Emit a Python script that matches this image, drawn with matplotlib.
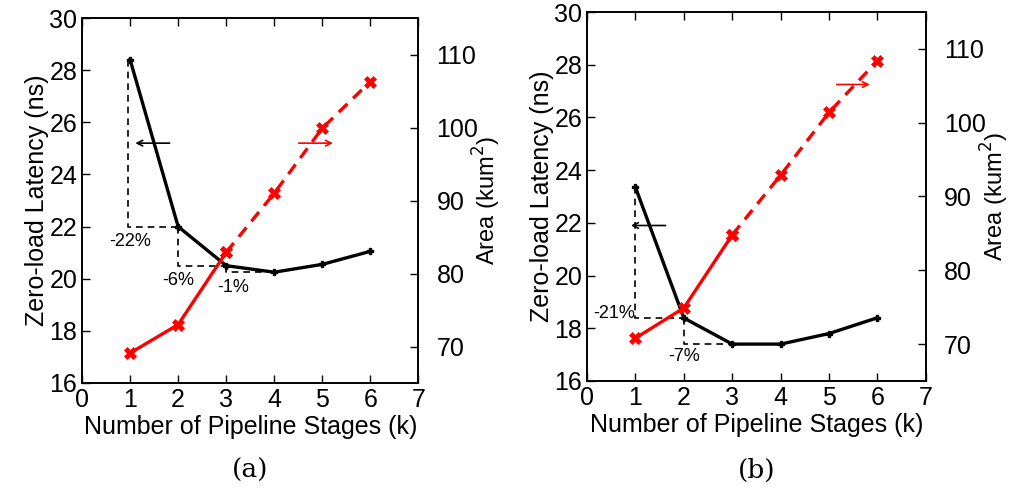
import matplotlib
matplotlib.use("Agg")
import matplotlib.pyplot as plt

plt.rcParams['font.family'] = ['Liberation Sans', 'DejaVu Sans']

stages = [1, 2, 3, 4, 5, 6]
latency_a = [28.4, 22.0, 20.5, 20.25, 20.55, 21.05]
area_a = [69.1, 73.0, 82.9, 91.0, 99.9, 106.3]
latency_b = [23.35, 18.39, 17.4, 17.4, 17.8, 18.4]
area_b = [70.8, 74.9, 84.8, 92.9, 101.4, 108.4]

xticks = [0, 1, 2, 3, 4, 5, 6, 7]
lat_ticks = [16, 18, 20, 22, 24, 26, 28, 30]
area_ticks = [70, 80, 90, 100, 110]

FS = 18
fig = plt.figure(figsize=(10.13, 5.0), dpi=100)


def panel(rect, lat, area, caption, cap_x):
    ax = fig.add_axes(rect)
    ax.set_xlim(0, 7)
    ax.set_ylim(16, 30)
    ax.set_xticks(xticks)
    ax.set_yticks(lat_ticks)
    ax.tick_params(direction='in', length=6, width=1, labelsize=FS, top=True)
    ax.set_xlabel('Number of Pipeline Stages (k)', fontsize=FS, labelpad=2)
    ax.set_ylabel('Zero-load Latency (ns)', fontsize=FS, labelpad=0)
    ax.plot(stages, lat, color='black', lw=2.4, marker='P', ms=5, zorder=3)
    ax2 = ax.twinx()
    ax2.set_ylim(65, 115)
    ax2.set_yticks(area_ticks)
    ax2.tick_params(direction='in', length=6, width=1, labelsize=FS, pad=13)
    ax2.set_ylabel('Area (kum$^2$)', fontsize=17)
    ax2.yaxis.set_label_coords(1.155, 0.5)
    ax2.plot(stages[:3], area[:3], color='red', lw=2.4, marker='X', ms=8, mew=0.5)
    ax2.plot(stages[2:], area[2:], color='red', lw=2.4, ls=(0, (3.6, 2.4)),
             marker='X', ms=8, mew=0.5)
    for a in (ax, ax2):
        for s in a.spines.values():
            s.set_linewidth(1.2)
    fig.text(cap_x, 0.06, caption, fontsize=19, ha='center', va='center',
             family='DejaVu Serif')
    return ax, ax2


dash = dict(color='black', lw=1.2, ls=(0, (4, 3)))
AF = 13

ax, ax2 = panel([0.081, 0.234, 0.332, 0.730], latency_a, area_a, '(a)', 0.247)
ax.plot([0.95, 0.95, 2], [latency_a[0], latency_a[1], latency_a[1]], **dash)
ax.plot([2, 2, 3], [latency_a[1], latency_a[2], latency_a[2]], **dash)
ax.plot([3, 3, 4], [latency_a[2], latency_a[3], latency_a[3]], **dash)
ax.text(1.0, 21.75, '-22%', fontsize=AF, ha='center', va='top')
ax.text(2.0, 20.25, '-6%', fontsize=AF, ha='center', va='top')
ax.text(3.15, 20.0, '-1%', fontsize=AF, ha='center', va='top')
ax.annotate('', xy=(1.05, 25.2), xytext=(1.88, 25.2),
            arrowprops=dict(arrowstyle='->', color='black', lw=1.2))
ax.annotate('', xy=(5.28, 25.2), xytext=(4.45, 25.2),
            arrowprops=dict(arrowstyle='->', color='red', lw=1.2))

bx, bx2 = panel([0.5795, 0.238, 0.3345, 0.738], latency_b, area_b, '(b)', 0.747)
bx.plot([1, 1, 2], [latency_b[0], latency_b[1], latency_b[1]], **dash)
bx.plot([2, 2, 3], [latency_b[1], latency_b[2], latency_b[2]], **dash)
bx.text(1.0, 18.55, '-21%', fontsize=AF, ha='right', va='center')
bx.text(2.0, 17.25, '-7%', fontsize=AF, ha='center', va='top')
bx.annotate('', xy=(0.85, 21.9), xytext=(1.68, 21.9),
            arrowprops=dict(arrowstyle='->', color='black', lw=1.2))
bx.annotate('', xy=(5.9, 27.25), xytext=(5.1, 27.25),
            arrowprops=dict(arrowstyle='->', color='red', lw=1.2))

fig.savefig('out.png', dpi=100)
